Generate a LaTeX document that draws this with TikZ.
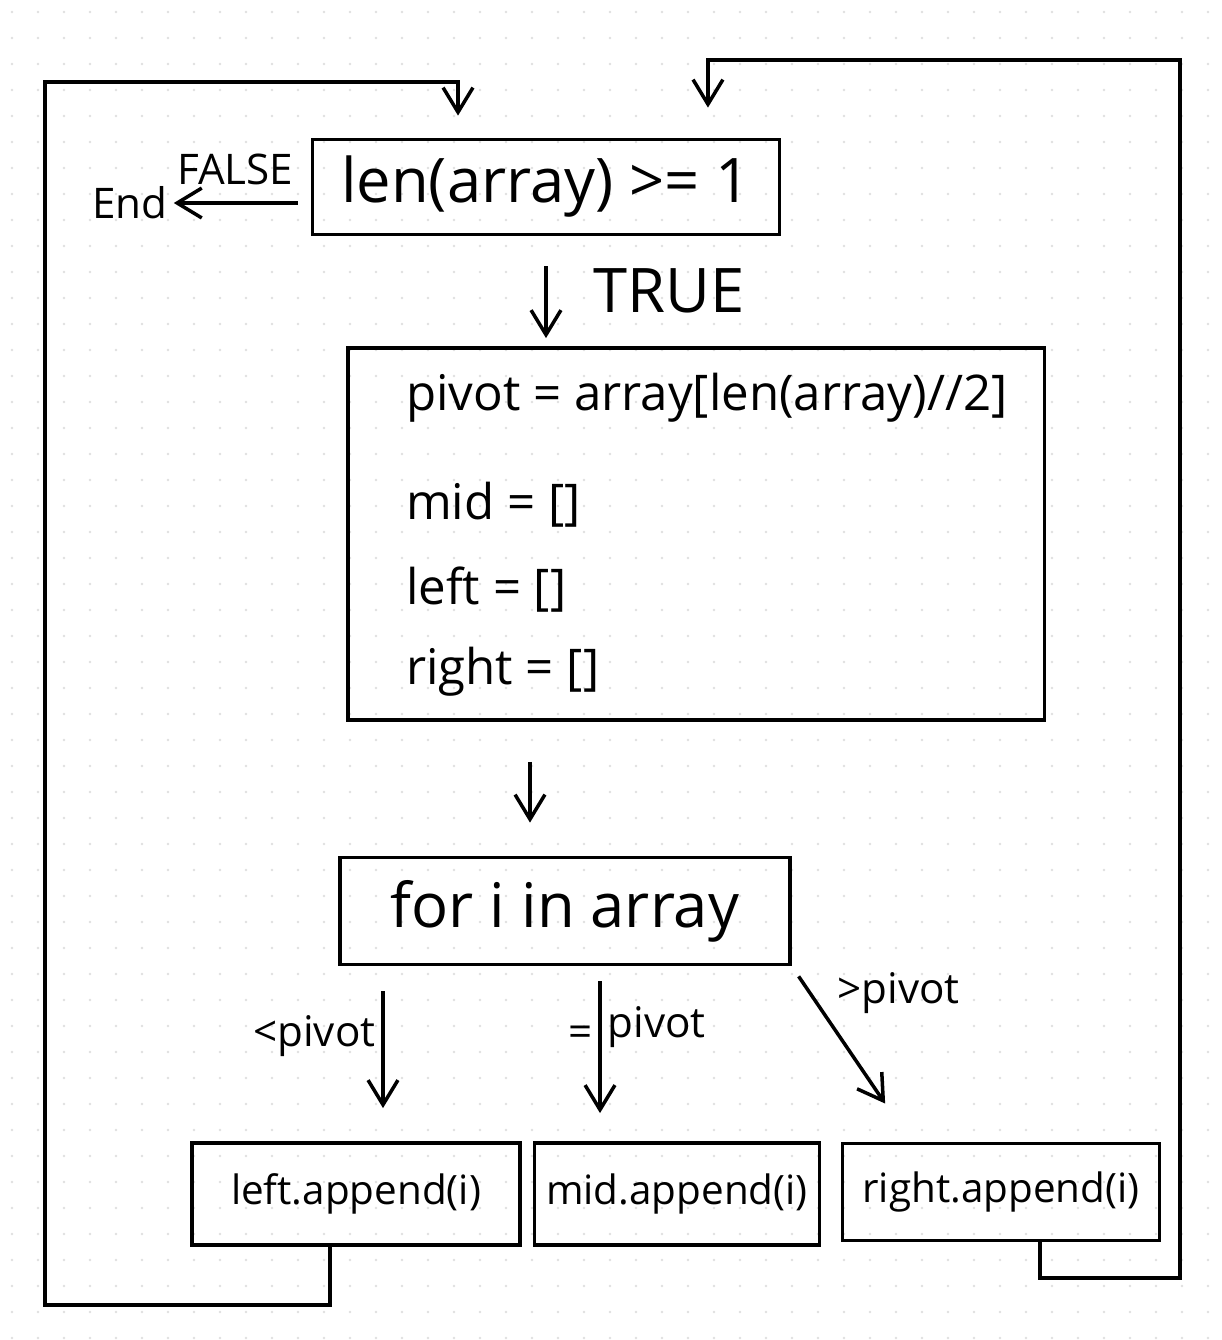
\documentclass[tikz,border=0pt]{standalone}
\usepackage{fontspec}
\setmainfont{Open Sans}
\usetikzlibrary{arrows.meta}
\tikzset{
  box/.style = {draw, line width = 2.2pt, inner sep = 0pt},
  flow/.style = {line width = 2pt, -{Straight Barb[length = 14pt, width = 17pt]}},
  bigtext/.style = {font = \fontsize{35}{42}\selectfont},
  codetext/.style = {font = \fontsize{28}{34}\selectfont},
  apptext/.style = {font = \fontsize{23}{28}\selectfont},
  lbl/.style = {font = \fontsize{24}{29}\selectfont}
}
\begin{document}
\begin{tikzpicture}[x = 0.02cm, y = -0.02cm]
  \useasboundingbox (0, 0) rectangle (1222, 1340);
  \foreach \x in {12, 38, ..., 1222}
    \foreach \y in {12, 38, ..., 1340}
      \fill[gray!25] (\x, \y) circle (0.8pt);

  \node[box, bigtext, minimum width = 9.34cm, minimum height = 1.9cm]
    (cond) at (546, 187) {len(array) >= 1};
  \node[lbl] (end) at (130, 203) {End};

  \node[box, minimum width = 13.94cm, minimum height = 7.44cm]
    (init) at (696, 534) {};
  \node[codetext, anchor = west] (pivotln) at (400, 398) {pivot = array[len(array)//2]};
  \node[codetext, anchor = west] (midln) at (400, 505) {mid = []};
  \node[codetext, anchor = west] (leftln) at (400, 590) {left = []};
  \node[codetext, anchor = west] (rightln) at (400, 672) {right = []};

  \node[box, bigtext, minimum width = 9cm, minimum height = 2.14cm]
    (loop) at (565, 911) {for i in array};

  \node[box, apptext, minimum width = 6.56cm, minimum height = 2.04cm]
    (lapp) at (356, 1194) {left.append(i)};
  \node[box, apptext, minimum width = 5.7cm, minimum height = 2.04cm]
    (mapp) at (677, 1194) {mid.append(i)};
  \node[box, apptext, minimum width = 6.34cm, minimum height = 1.94cm]
    (rapp) at (1001, 1192) {right.append(i)};

  \draw[flow, shorten <= 0.26cm] (cond.west |- end.east) -- (end.east)
    node[pos = 0.55, above = 6pt, lbl] {FALSE};
  \draw[flow, shorten <= 0.6cm, shorten >= 0.16cm] (cond.south) -- (cond.south |- init.north)
    node[midway, right = 0.8cm, bigtext] {TRUE};
  \draw[flow, shorten <= 0.8cm, shorten >= 0.66cm]
    ([xshift = -0.7cm]loop.north |- init.south) -- ([xshift = -0.7cm]loop.north);

  \draw[flow, shorten <= 0.5cm, shorten >= 0.66cm]
    ([xshift = 0.54cm]lapp.north |- loop.south) -- ([xshift = 0.54cm]lapp.north)
    node[pos = 0.4, left, lbl] {<pivot};
  \draw[flow, shorten <= 0.3cm, shorten >= 0.56cm]
    ([xshift = -1.54cm]mapp.north |- loop.south) -- ([xshift = -1.54cm]mapp.north)
    node[pos = 0.4, left, lbl] {=}
    node[pos = 0.35, right, lbl] {pivot};
  \draw[flow, shorten <= 0.24cm, shorten >= 0.92cm]
    (loop.south east) -- ([xshift = -1.8cm]rapp.north)
    node[pos = 0.15, right = 0.4cm, lbl] {>pivot};

  \coordinate (lbot) at (45, 1305);
  \coordinate (ltop) at (45, 82);
  \draw[flow, shorten >= 0.44cm]
    ([xshift = -0.52cm]lapp.south) |- (lbot) -- (ltop) -| ([xshift = -1.76cm]cond.north);
  \coordinate (rbot) at (1180, 1278);
  \coordinate (rtop) at (1180, 60);
  \draw[flow, shorten >= 0.6cm]
    ([xshift = 0.78cm]rapp.south) |- (rbot) -- (rtop) -| ([xshift = 3.24cm]cond.north);
\end{tikzpicture}
\end{document}
